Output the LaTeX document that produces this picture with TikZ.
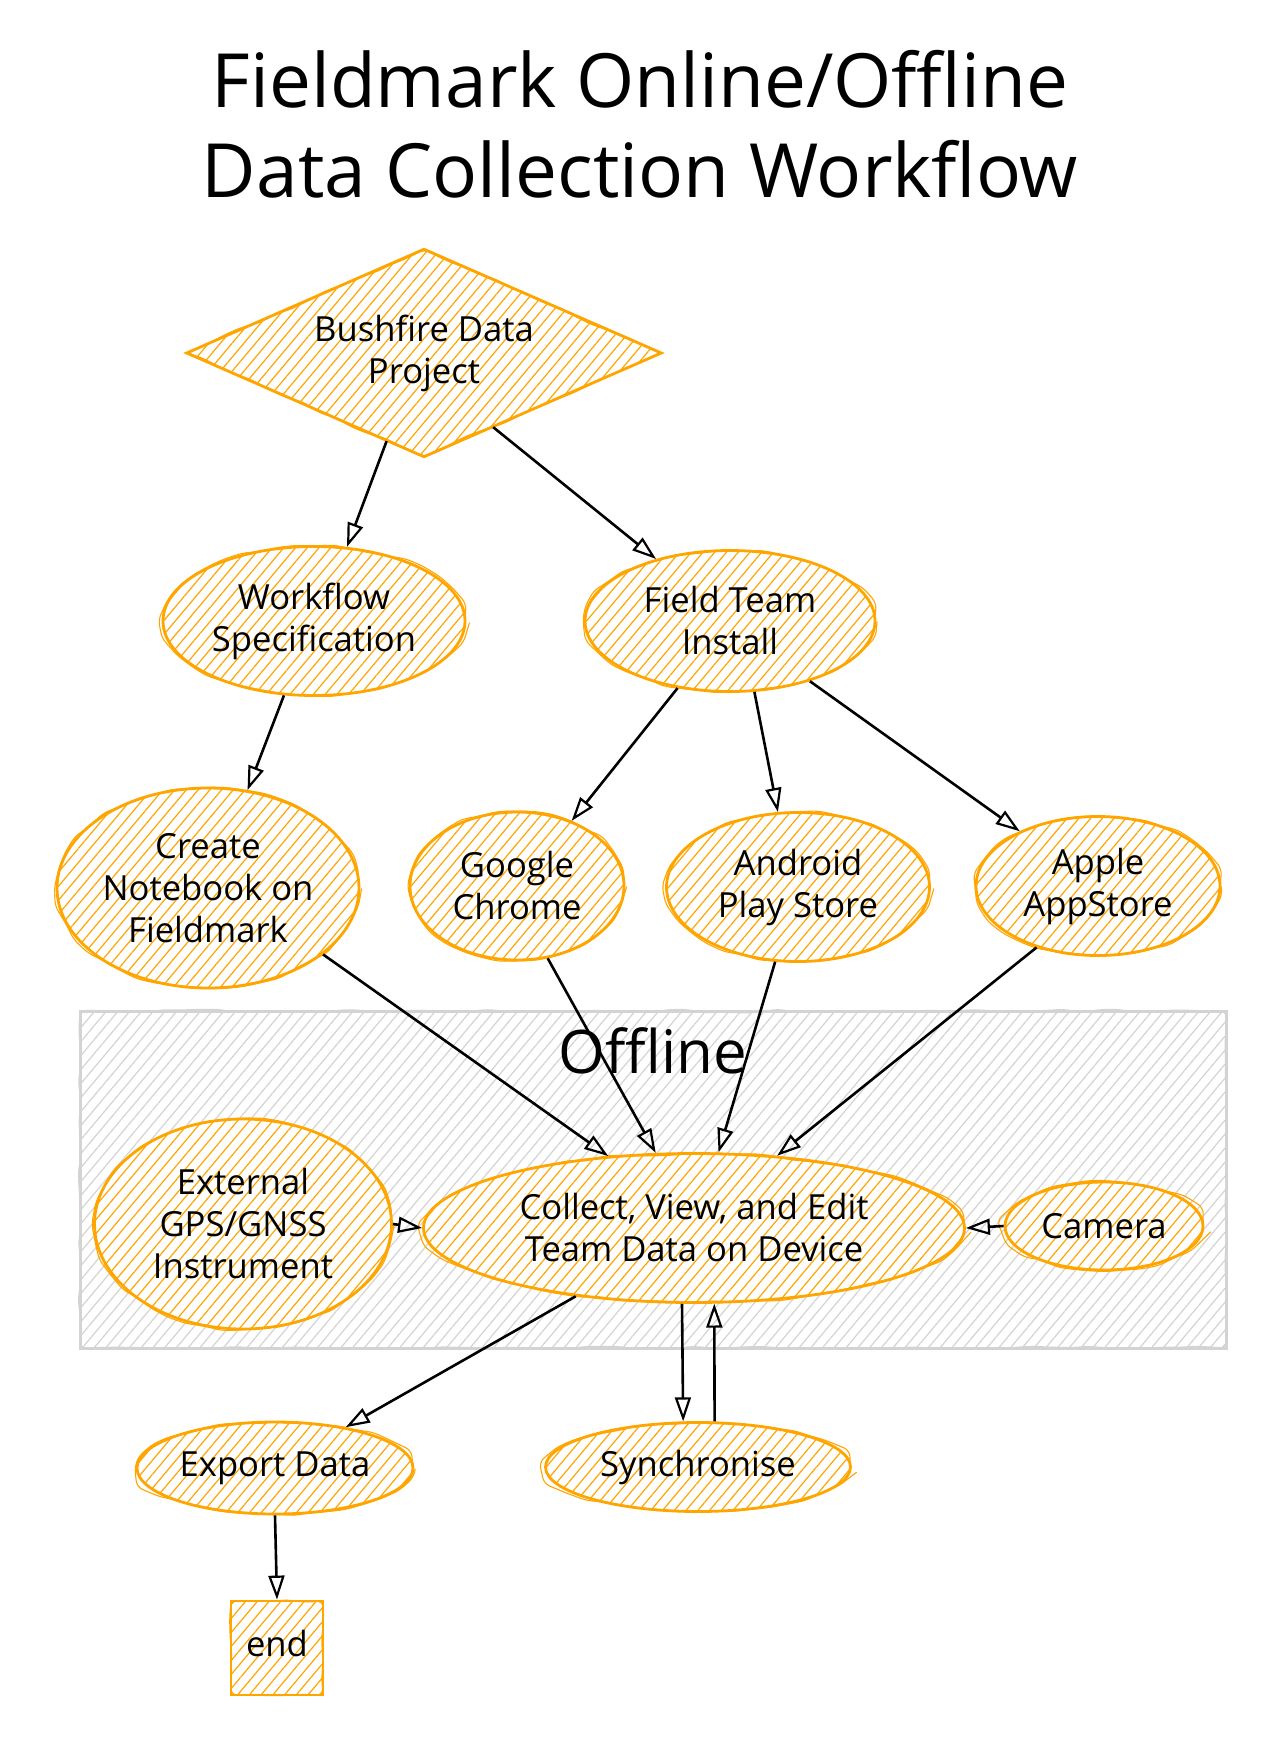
\documentclass[tikz,border=0pt]{standalone}
\usepackage{fontspec}
\setmainfont{Open Sans}
\usetikzlibrary{shapes.geometric,arrows.meta,patterns.meta,decorations.pathmorphing}
\definecolor{sk}{HTML}{FFA500}
\definecolor{boxgray}{HTML}{D3D3D3}
\pgfmathsetseed{7}
\begin{document}
\begin{tikzpicture}[x=1pt,y=-1pt,
  sketch/.style={postaction={draw=#1, line width=1.1pt, decorate,
      decoration={random steps, segment length=18pt, amplitude=1.8pt}, rounded corners=6pt}},
  hatch/.style={pattern={Lines[angle=50,distance=9pt,line width=1.2pt]}, pattern color=#1},
  nd/.style={draw=sk, line width=2.8pt, preaction={fill=white}, hatch=sk, sketch=sk,
      inner sep=0pt, align=center, text=black, font=\fontsize{34.6}{42}\selectfont},
  ell/.style={nd, ellipse},
  dia/.style={nd, diamond, shape aspect=2.28},
  boxnd/.style={nd, rectangle},
  offbox/.style={rectangle, draw=boxgray, line width=3pt, hatch=boxgray, sketch=boxgray, inner sep=0pt},
  conn/.style={draw=black, line width=2.6pt, -{Triangle[open, length=24pt, width=16pt, line width=2.2pt]}},
]
\useasboundingbox (0,0) rectangle (1276,1740);

\node[align=center, font=\fontsize{74.8}{90}\selectfont] (title) at (640,124)
  {Fieldmark Online/Offline\\Data Collection Workflow};

\node[dia, minimum width=475, minimum height=208] (bush) at (424,353) {Bushfire Data\\Project};
\node[ell, minimum width=302, minimum height=149] (wf) at (314,621) {Workflow\\Specification};
\node[ell, minimum width=290, minimum height=141] (ft) at (730,621) {Field Team\\Install};
\node[ell, minimum width=302, minimum height=200] (cn) at (208,888) {Create\\Notebook on\\Fieldmark};
\node[ell, minimum width=214, minimum height=148] (gc) at (517,886) {Google\\Chrome};
\node[ell, minimum width=263, minimum height=149] (ap) at (798,887) {Android\\Play Store};
\node[ell, minimum width=244, minimum height=139] (apple) at (1098,886) {Apple\\AppStore};

\node[offbox, minimum width=1146, minimum height=337] (offline) at (653,1179.5) {};
\node[font=\fontsize{60}{72}\selectfont] (offlbl) at (653,1051) {Offline};

\node[ell, minimum width=297, minimum height=210] (ext) at (243,1224) {External\\GPS/GNSS\\Instrument};
\node[ell, minimum width=541, minimum height=149] (col) at (694,1228) {Collect, View, and Edit\\Team Data on Device};
\node[ell, minimum width=198, minimum height=88] (cam) at (1104,1226) {Camera};
\node[ell, minimum width=276, minimum height=92] (exp) at (275,1468) {Export Data};
\node[ell, minimum width=305, minimum height=89] (syn) at (698,1467) {Synchronise};
\node[boxnd, minimum width=92, minimum height=94, text depth=10pt] (fin) at (277,1648) {end};

\draw[conn] (bush.247) -- (wf.66);
\draw[conn] (bush.313) -- (ft.140);
\draw[conn] (wf.248) -- (cn.68);
\draw[conn] (ft.232) -- (gc.50);
\draw[conn] (ft.289) -- (ap.105);
\draw[conn] (ft.323) -- (apple.145);
\draw[conn] (cn.330) -- (col.140);
\draw[conn] (gc.293) -- (col.117);
\draw[conn] (ap.253) -- (col.72);
\draw[conn] (apple.225) -- (col.41);
\draw[conn] (ext.east) -- (col.west);
\draw[conn] (cam.west) -- (col.east);
\draw[conn] (col.210) -- (exp.30);
\draw[conn] (col.261) -- (syn.108);
\draw[conn] (syn.70) -- (col.285);
\draw[conn] (exp.south) -- (fin.north);
\end{tikzpicture}
\end{document}
